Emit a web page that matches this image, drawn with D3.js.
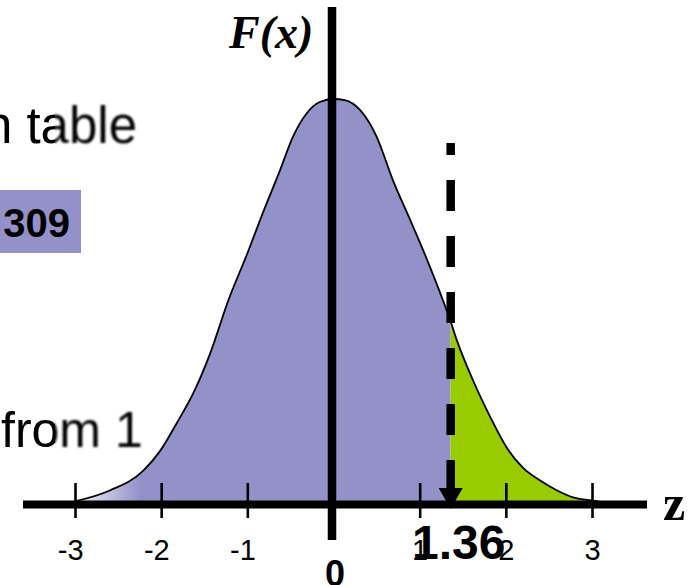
<!DOCTYPE html>
<html>
<head>
<meta charset="utf-8">
<script src="https://cdn.jsdelivr.net/npm/d3@7"></script>
<style>
  html, body { margin: 0; padding: 0; background: #ffffff; }
  svg { display: block; }
</style>
</head>
<body>
<script>
// Standard normal density curve, tail area beyond z = 1.36 highlighted.
const curveZ = [-3.00, -2.59, -2.21, -2.01, -1.82, -1.63, -1.43, -1.22, -1.00, -0.82,
                -0.62, -0.47, -0.31, -0.16, 0.00, 0.13, 0.31, 0.50, 0.69, 0.89,
                1.09, 1.27, 1.36, 1.43, 1.62, 1.82, 2.01, 2.20, 2.39, 2.59,
                2.78, 3.00, 3.19];
const curveF = [0.003, 0.014, 0.033, 0.053, 0.080, 0.109, 0.149, 0.201, 0.247, 0.287,
                0.329, 0.362, 0.385, 0.396, 0.399, 0.398, 0.388, 0.362, 0.319, 0.280,
                0.240, 0.201, 0.180, 0.162, 0.122, 0.086, 0.056, 0.036, 0.024, 0.014,
                0.007, 0.004, 0.001];
const tickValues = [-3, -2, -1, 1, 2, 3];
const tickLabels = ["-3", "-2", "-1", "1", "2", "3"];
const criticalZ = 1.36;
const criticalLabel = "1.36";
const originLabel = "0";
const yAxisTitle = "F(x)";
const xAxisTitle = "z";
const noteTop = "n table";
const noteBottom = "from 1";
const boxValue = "309";

const W = 696, H = 585;
const purple = "#9491c8";
const green = "#99cc00";

const points = curveZ.map((z, i) => ({ z, f: curveF[i] }));

const x = d3.scaleLinear().domain([-3, 3]).range([75, 592]);
const y = d3.scaleLinear().domain([0, 0.399]).range([504.5, 99]);

const svg = d3.select("body").append("svg")
  .attr("width", W).attr("height", H)
  .attr("viewBox", `0 0 ${W} ${H}`);

const defs = svg.append("defs");
const grad = defs.append("linearGradient")
  .attr("id", "leftFade").attr("gradientUnits", "userSpaceOnUse")
  .attr("x1", 80).attr("x2", 140).attr("y1", 0).attr("y2", 0);
grad.append("stop").attr("offset", 0).attr("stop-color", "#ecebf5");
grad.append("stop").attr("offset", 1).attr("stop-color", purple);

defs.append("filter").attr("id", "soft")
  .append("feGaussianBlur").attr("stdDeviation", 0.8);
defs.append("clipPath").attr("id", "clipSharp")
  .append("rect").attr("x", 0).attr("y", 0).attr("width", 55).attr("height", H);
defs.append("clipPath").attr("id", "clipSoft")
  .append("rect").attr("x", 55).attr("y", 0).attr("width", W).attr("height", H);

// Side notes (partly cut off at the left edge)
function note(txt, xPos, yPos, anchor, size) {
  [["clipSharp", null], ["clipSoft", "url(#soft)"]].forEach(([clip, filt]) => {
    svg.append("text")
      .attr("x", xPos).attr("y", yPos)
      .attr("text-anchor", anchor)
      .attr("clip-path", `url(#${clip})`)
      .attr("filter", filt)
      .attr("font-family", "Arial, 'Liberation Sans', sans-serif")
      .attr("font-size", size)
      .attr("fill", "#000")
      .text(txt);
  });
}
note(noteTop, 137, 143, "end", 51);
note(noteBottom, 1, 447, "start", 50);

svg.append("rect")
  .attr("x", 0).attr("y", 190).attr("width", 81).attr("height", 63)
  .attr("fill", purple);
svg.append("text")
  .attr("x", 70).attr("y", 237)
  .attr("text-anchor", "end")
  .attr("font-family", "Arial, 'Liberation Sans', sans-serif")
  .attr("font-weight", "bold")
  .attr("font-size", 40)
  .attr("fill", "#000")
  .text(boxValue);

// Areas under the curve
const area = d3.area()
  .x(d => x(d.z)).y0(y(0)).y1(d => y(d.f))
  .curve(d3.curveMonotoneX);

svg.append("path")
  .datum(points.filter(d => d.z <= criticalZ))
  .attr("d", area)
  .attr("fill", "url(#leftFade)");

svg.append("path")
  .datum(points.filter(d => d.z >= criticalZ))
  .attr("d", area)
  .attr("fill", green);

const line = d3.line()
  .x(d => x(d.z)).y(d => y(d.f))
  .curve(d3.curveMonotoneX);

svg.append("path")
  .datum(points)
  .attr("d", line)
  .attr("fill", "none")
  .attr("stroke", "#000")
  .attr("stroke-width", 1.8);

// Horizontal axis with ticks crossing the baseline
const axis = d3.axisBottom(x)
  .tickValues(tickValues)
  .tickFormat((d, i) => tickLabels[i])
  .tickSize(35)
  .tickPadding(21);

const gx = svg.append("g")
  .attr("transform", `translate(0,${483})`)
  .call(axis);
gx.attr("font-size", null).attr("font-family", null);
gx.select(".domain").remove();
gx.selectAll(".tick line").attr("stroke", "#000").attr("stroke-width", 2.6);
gx.selectAll(".tick text")
  .attr("fill", "#000")
  .attr("text-anchor", "end")
  .attr("dx", "0.278em")
  .style("font-family", "Arial, 'Liberation Sans', sans-serif")
  .style("font-size", "29px");

svg.append("line")
  .attr("x1", 23).attr("x2", 647)
  .attr("y1", y(0)).attr("y2", y(0))
  .attr("stroke", "#000").attr("stroke-width", 8);

// Vertical axis
svg.append("line")
  .attr("x1", x(0) - 1.5).attr("x2", x(0) - 1.5)
  .attr("y1", 7).attr("y2", 540)
  .attr("stroke", "#000").attr("stroke-width", 8.5);

svg.append("text")
  .attr("x", 229).attr("y", 48)
  .attr("font-family", "'Liberation Serif', 'Times New Roman', serif")
  .attr("font-weight", "bold").attr("font-style", "italic")
  .attr("font-size", 46)
  .attr("fill", "#000")
  .text(yAxisTitle);

svg.append("text")
  .attr("x", 663).attr("y", 520)
  .attr("font-family", "'Liberation Serif', 'Times New Roman', serif")
  .attr("font-weight", "bold")
  .attr("font-size", 50)
  .attr("fill", "#000")
  .text(xAxisTitle);

svg.append("text")
  .attr("x", x(0) + 1.5).attr("y", 586)
  .attr("text-anchor", "middle")
  .attr("font-family", "Arial, 'Liberation Sans', sans-serif")
  .attr("font-weight", "bold")
  .attr("font-size", 36)
  .attr("fill", "#000")
  .text(originLabel);

// Dashed marker down to the critical value
const cx = x(criticalZ);
svg.append("line")
  .attr("x1", cx).attr("x2", cx)
  .attr("y1", 143).attr("y2", 489)
  .attr("stroke", "#000").attr("stroke-width", 8.5)
  .attr("stroke-dasharray", "31,25")
  .attr("stroke-dashoffset", 19);
svg.append("path")
  .attr("d", `M${cx - 12},488 L${cx + 12},488 L${cx},509 Z`)
  .attr("fill", "#000");

svg.append("text")
  .attr("x", cx + 8).attr("y", 559)
  .attr("text-anchor", "middle")
  .attr("font-family", "Arial, 'Liberation Sans', sans-serif")
  .attr("font-weight", "bold")
  .attr("font-size", 48)
  .attr("fill", "#000")
  .text(criticalLabel);
</script>
</body>
</html>
